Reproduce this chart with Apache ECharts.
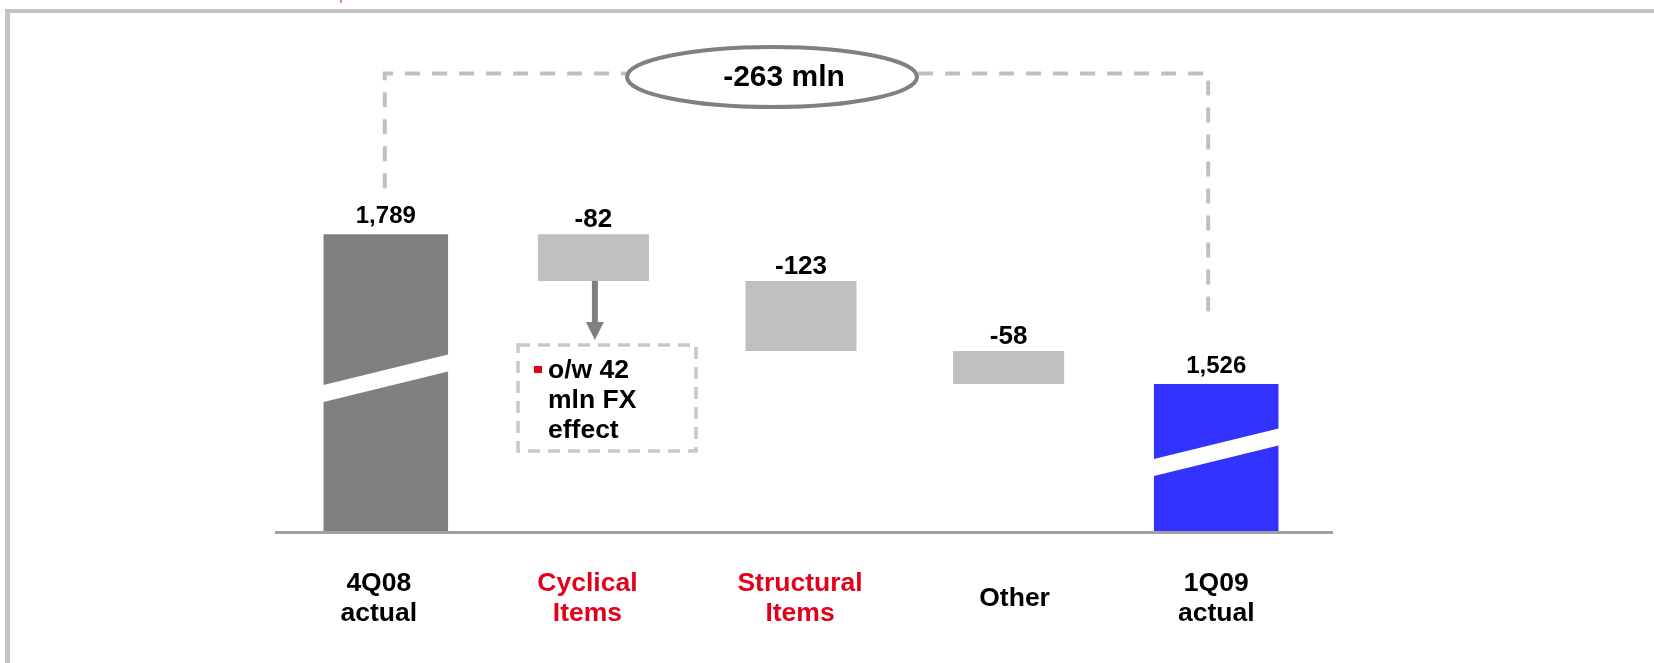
<!DOCTYPE html>
<html>
<head>
<meta charset="utf-8">
<title>4Q08 to 1Q09 bridge</title>
<script src="https://cdn.jsdelivr.net/npm/echarts@6/dist/echarts.min.js"></script>
<style>
  html, body { margin: 0; padding: 0; background: #ffffff; }
  #chart { width: 1654px; height: 663px; }
</style>
</head>
<body>
<div id="chart"></div>
<script>
// Bridge from the 4Q08 total to the 1Q09 total (mln)
const categories = ['4Q08\nactual', 'Cyclical\nItems', 'Structural\nItems', 'Other', '1Q09\nactual'];
const values = [1789, -82, -123, -58, 1526];
const isTotal = [true, false, false, false, true];
const highlighted = [false, true, true, false, false];
const noteLines = ['o/w 42', 'mln FX', 'effect'];
const unit = 'mln';

const FONT = '"Liberation Sans", Arial, Helvetica, sans-serif';
const RED = '#e2001a';

// Floating waterfall segments: [index, start, end, isTotal]
let running = 0;
const segments = values.map((v, i) => {
  if (isTotal[i]) { running = v; return [i, 0, v, 1]; }
  const start = running;
  running += v;
  return [i, start, running, 0];
});
const totalChange = values.filter((v, i) => !isTotal[i]).reduce((a, b) => a + b, 0);

function fmt(v) {
  const s = Math.abs(v).toLocaleString('en-US');
  return v < 0 ? '-' + s : s;
}

// small per-label nudges so the axis captions sit evenly;
// single-line captions get a taller line so they centre against two-line ones
const labelPads = [[0, 14, 0, 0], [0, 12, 0, 0], [0, 2, 0, 0], [0, 0, 0, 12], [0, 0, 0, 0]];
const categoryData = categories.map((c, i) => ({
  value: c,
  textStyle: {
    color: highlighted[i] ? RED : '#000000',
    padding: labelPads[i],
    lineHeight: c.indexOf('\n') >= 0 ? 30 : 60
  }
}));

function renderBar(params, api) {
  const idx = api.value(0);
  const s = api.value(1);
  const e = api.value(2);
  const tot = api.value(3) === 1;
  const cs = params.coordSys;
  const baseY = cs.y + cs.height;
  const band = api.size([1, 0])[0];
  const w = band * (tot ? 0.6 : 0.535);
  const xc = api.coord([idx, e])[0];
  const yTop = api.coord([idx, Math.max(s, e)])[1];
  const yBot = Math.min(api.coord([idx, Math.min(s, e)])[1], baseY);
  const x0 = xc - w / 2;
  const x1 = xc + w / 2;
  let fill = '#c0c0c0';
  if (tot) fill = idx === 0 ? '#808080' : '#3333ff';

  const children = [{
    type: 'rect',
    shape: { x: x0, y: yTop, width: w, height: yBot - yTop },
    style: { fill: fill }
  }];

  if (tot) {
    // slanted white break across the truncated total columns
    const h = yBot - yTop;
    const yc = yBot - h * (idx === 0 ? 0.515 : 0.535);
    const rise = 31;
    const t = 17;
    const yl = yc + rise / 2;
    const yr = yc - rise / 2;
    children.push({
      type: 'polygon',
      shape: { points: [[x0 - 1, yl - t / 2], [x1 + 1, yr - t / 2], [x1 + 1, yr + t / 2], [x0 - 1, yl + t / 2]] },
      style: { fill: '#ffffff' }
    });
  }

  children.push({
    type: 'text',
    style: {
      text: fmt(tot ? e : e - s),
      x: xc,
      y: yTop - (tot ? 17.5 : 14),
      align: 'center',
      verticalAlign: 'middle',
      fill: '#000000',
      font: 'bold ' + (tot ? 24 : 26) + 'px ' + FONT
    }
  });

  return { type: 'group', children: children };
}

const chart = echarts.init(document.getElementById('chart'), null, { renderer: 'canvas' });

chart.setOption({
  backgroundColor: '#ffffff',
  animation: false,
  grid: { left: 282, right: 334, top: 57, bottom: 132, outerBoundsMode: 'none', containLabel: false },
  xAxis: {
    type: 'category',
    data: categoryData,
    axisLine: { show: false },
    axisTick: { show: false },
    splitLine: { show: false },
    axisLabel: {
      interval: 0,
      margin: 38,
      align: 'center',
      lineHeight: 30,
      fontSize: 26.5,
      fontWeight: 'bold',
      fontFamily: FONT,
      color: '#000000'
    }
  },
  yAxis: {
    type: 'value',
    min: 1268,
    max: 2100,
    show: false,
    splitLine: { show: false }
  },
  series: [{
    type: 'custom',
    renderItem: renderBar,
    data: segments,
    clip: false,
    z: 2
  }]
});

// Annotations placed from the chart's own scale
const px = (i, v) => chart.convertToPixel({ gridIndex: 0 }, [i, v]);
const firstTop = px(0, values[0]);
const lastTop = px(4, values[4]);
const cyclicalBottom = px(1, segments[1][2]);

const dashColor = '#c0c0c0';
const lineY = 73.5;
const leftX = firstTop[0] - 1;
const rightX = lastTop[0] - 8;
const ax = cyclicalBottom[0] + 1.5;

chart.setOption({
  graphic: [
    // frame
    { type: 'rect', silent: true, z: 1, shape: { x: 5, y: 9, width: 1649, height: 4 }, style: { fill: '#c3c3c3' } },
    { type: 'rect', silent: true, z: 1, shape: { x: 5, y: 9, width: 5, height: 654 }, style: { fill: '#c3c3c3' } },
    { type: 'rect', silent: true, z: 1, shape: { x: 340, y: 0, width: 2, height: 3 }, style: { fill: '#f07a8c' } },
    // baseline
    { type: 'rect', silent: true, z: 10, shape: { x: 275, y: 531, width: 1058, height: 3 }, style: { fill: '#a0a0a0' } },
    // dashed connector between the two totals
    {
      type: 'polyline', silent: true, z: 3,
      shape: { points: [[leftX, firstTop[1] - 46], [leftX, lineY], [rightX, lineY], [rightX, lastTop[1] - 72]] },
      style: { stroke: dashColor, lineWidth: 4, lineDash: [15, 12], fill: null }
    },
    {
      type: 'ellipse', silent: true, z: 4,
      shape: { cx: 772, cy: 77, rx: 145, ry: 30 },
      style: { fill: '#ffffff', stroke: '#808080', lineWidth: 4 }
    },
    {
      type: 'text', silent: true, z: 5,
      style: {
        text: fmt(totalChange) + ' ' + unit, x: 784, y: 78,
        align: 'center', verticalAlign: 'middle',
        font: 'bold 30px ' + FONT, fill: '#000000'
      }
    },
    // arrow from the cyclical bar to its note
    {
      type: 'line', silent: true, z: 3,
      shape: { x1: ax, y1: cyclicalBottom[1], x2: ax, y2: 324 },
      style: { stroke: '#808080', lineWidth: 6 }
    },
    {
      type: 'polygon', silent: true, z: 3,
      shape: { points: [[ax - 9, 322], [ax + 9, 322], [ax, 340]] },
      style: { fill: '#808080' }
    },
    // note box
    {
      type: 'rect', silent: true, z: 3,
      shape: { x: 518, y: 345, width: 178, height: 106 },
      style: { fill: null, stroke: '#c8c8c8', lineWidth: 3.5, lineDash: [12, 8] }
    },
    { type: 'rect', silent: true, z: 3, shape: { x: 534, y: 366, width: 8, height: 7 }, style: { fill: RED } },
    {
      type: 'text', silent: true, z: 3,
      style: {
        text: noteLines.join('\n'), x: 548, y: 356,
        align: 'left', verticalAlign: 'top', lineHeight: 30,
        font: 'bold 26.5px ' + FONT, fill: '#000000'
      }
    }
  ]
});
</script>
</body>
</html>
